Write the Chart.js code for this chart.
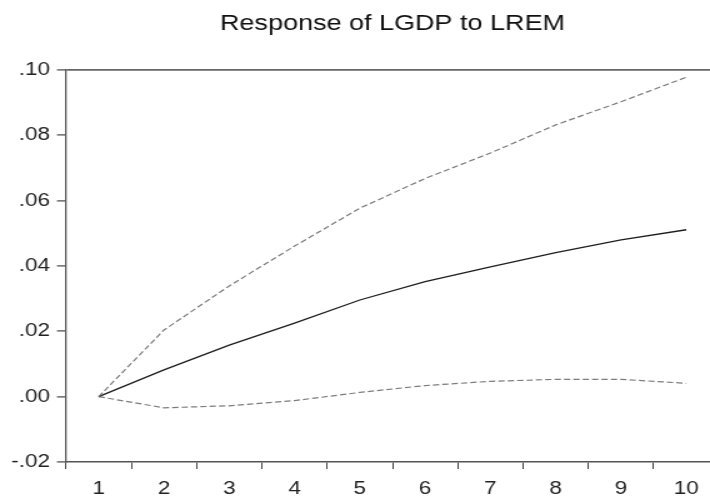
<!DOCTYPE html>
<html>
<head>
<meta charset="utf-8">
<script src="https://cdn.jsdelivr.net/npm/chart.js@4.4.1/dist/chart.umd.min.js"></script>
<style>
html, body { margin: 0; padding: 0; overflow: hidden; background: #fff; }
canvas { display: block; }
</style>
</head>
<body>
<canvas id="c" width="584" height="497" style="width:730px;height:497px;"></canvas>
<script>
const periods = ['1', '2', '3', '4', '5', '6', '7', '8', '9', '10'];
const response = [0, 0.0082, 0.0158, 0.0225, 0.0296, 0.0352, 0.0397, 0.0441, 0.0480, 0.0511];
const upperBand = [0, 0.0204, 0.0339, 0.0461, 0.0577, 0.0668, 0.0746, 0.0832, 0.0903, 0.0978];
const lowerBand = [0, -0.0034, -0.0028, -0.0012, 0.0013, 0.0034, 0.0047, 0.0053, 0.0053, 0.0041];
const yTickLabels = ['-.02', '.00', '.02', '.04', '.06', '.08', '.10'];
const chartTitle = 'Response of LGDP to LREM';

const FONT = "'Liberation Sans', Arial, sans-serif";

new Chart(document.getElementById('c'), {
  type: 'line',
  data: {
    labels: periods,
    datasets: [
      { data: upperBand, borderColor: '#7c7c7c', borderWidth: 1.2, borderDash: [5, 2.5], pointRadius: 0, tension: 0, fill: false },
      { data: response, borderColor: '#1e1e1e', borderWidth: 1.3, pointRadius: 0, tension: 0, fill: false },
      { data: lowerBand, borderColor: '#7c7c7c', borderWidth: 1.2, borderDash: [5, 2.5], pointRadius: 0, tension: 0, fill: false }
    ]
  },
  options: {
    responsive: false,
    animation: false,
    devicePixelRatio: 1,
    layout: { padding: { left: 0, right: 8.8, top: 0, bottom: 0 } },
    plugins: {
      legend: { display: false },
      tooltip: { enabled: false },
      title: {
        display: true,
        fullSize: false,
        text: chartTitle,
        color: '#111',
        font: { family: FONT, size: 21.6, weight: 'normal' },
        padding: { top: 11.5, bottom: 32.6 }
      }
    },
    scales: {
      x: {
        type: 'category',
        offset: true,
        afterFit: (s) => { s.height = 35; },
        grid: {
          offset: true,
          drawOnChartArea: false,
          drawTicks: true,
          tickLength: 7,
          tickColor: '#444',
          tickWidth: 1
        },
        border: { display: true, color: '#555', width: 1.5 },
        ticks: {
          color: '#222',
          font: { family: FONT, size: 18 },
          padding: 9,
          maxRotation: 0,
          autoSkip: false
        }
      },
      y: {
        min: -0.02,
        max: 0.10,
        afterFit: (s) => { s.width = 52.8; },
        afterBuildTicks: (s) => {
          s.ticks = yTickLabels.map((_, i) => ({ value: Math.round((-0.02 + 0.02 * i) * 100) / 100 }));
        },
        grid: {
          drawTicks: true,
          tickLength: 7.2,
          tickColor: '#444',
          tickWidth: 1.2,
          lineWidth: 1.8,
          color: (ctx) => (ctx.tick && Math.abs(ctx.tick.value - 0.10) < 1e-9) ? '#666' : 'rgba(0,0,0,0)'
        },
        border: { display: true, color: '#555', width: 1.3 },
        ticks: {
          color: '#222',
          font: { family: FONT, size: 18 },
          padding: 5.6,
          callback: (v, i) => yTickLabels[i]
        }
      }
    }
  }
});
</script>
</body>
</html>
